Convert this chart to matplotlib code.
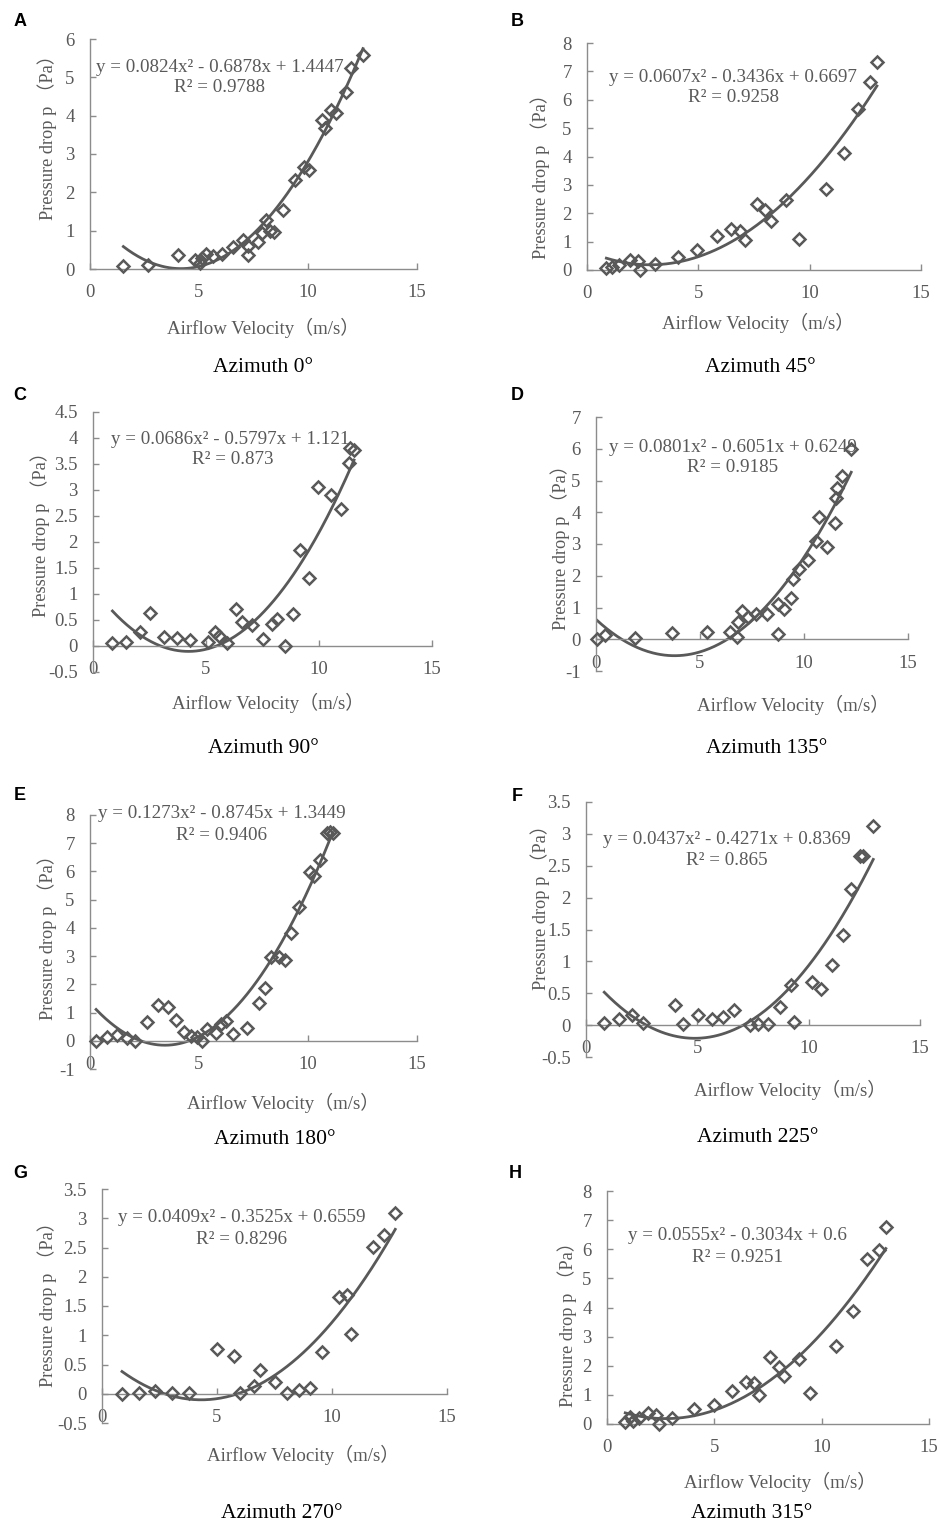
import numpy as np
import matplotlib
matplotlib.use("Agg")
import matplotlib.pyplot as plt
from matplotlib.ticker import FuncFormatter, MultipleLocator

plt.rcParams['font.family'] = ['Liberation Serif', 'Noto Sans CJK SC']

W, H = 940, 1526
GREY = '#595959'
AXIS = '#8c8c8c'

# ---------------- data ----------------
a_x = [1.53, 2.65, 4.03, 4.82, 5.05, 5.13, 5.31, 5.63, 6.05, 6.58, 7.04, 7.24, 7.27, 7.70, 7.88,
       8.07, 8.24, 8.46, 8.85, 9.41, 9.80, 10.03, 10.64, 10.79, 11.07, 11.28, 11.74, 11.97, 12.52]
a_y = [0.09, 0.11, 0.37, 0.24, 0.15, 0.29, 0.40, 0.33, 0.40, 0.57, 0.75, 0.61, 0.37, 0.70, 0.94,
       1.27, 0.98, 0.96, 1.53, 2.33, 2.65, 2.59, 3.90, 3.68, 4.16, 4.07, 4.63, 5.24, 5.57]

b_x = [0.87, 1.12, 1.45, 1.92, 2.29, 2.40, 3.07, 4.07, 4.94, 5.84, 6.48, 6.86, 7.08, 7.63, 8.01,
       8.28, 8.95, 9.51, 10.75, 11.53, 12.16, 12.72, 13.02]
b_y = [0.08, 0.12, 0.18, 0.35, 0.32, 0.0, 0.20, 0.47, 0.70, 1.21, 1.45, 1.37, 1.06, 2.32, 2.11,
       1.74, 2.46, 1.10, 2.87, 4.13, 5.67, 6.64, 7.33]

c_x = [0.86, 1.47, 2.06, 2.54, 3.13, 3.73, 4.31, 5.09, 5.38, 5.58, 5.94, 6.31, 6.61, 7.05, 7.52,
       7.92, 8.16, 8.51, 8.85, 9.14, 9.56, 9.96, 10.52, 10.99, 11.31, 11.36, 11.55]
c_y = [0.05, 0.08, 0.26, 0.64, 0.17, 0.16, 0.12, 0.08, 0.26, 0.19, 0.05, 0.72, 0.47, 0.40, 0.14,
       0.43, 0.51, 0.0, 0.61, 1.85, 1.31, 3.06, 2.91, 2.64, 3.51, 3.80, 3.76]

d_x = [0.03, 0.43, 1.88, 3.64, 5.33, 6.45, 6.77, 6.82, 7.04, 7.33, 7.68, 8.24, 8.73, 8.77, 9.02,
       9.39, 9.47, 9.77, 10.17, 10.57, 10.73, 11.10, 11.47, 11.53, 11.58, 11.82, 12.27]
d_y = [0.0, 0.14, 0.05, 0.21, 0.24, 0.24, 0.06, 0.53, 0.90, 0.69, 0.79, 0.79, 1.11, 0.17, 0.95,
       1.29, 1.89, 2.20, 2.51, 3.09, 3.86, 2.91, 3.65, 4.46, 4.75, 5.13, 5.98]

e_x = [0.28, 0.77, 1.26, 1.68, 2.07, 2.60, 3.11, 3.60, 3.93, 4.33, 4.62, 4.90, 5.13, 5.36, 5.77,
       6.02, 6.23, 6.55, 7.22, 7.73, 8.04, 8.30, 8.65, 8.95, 9.23, 9.61, 10.10, 10.26, 10.56,
       10.87, 11.02, 11.13]
e_y = [0.0, 0.12, 0.20, 0.11, 0.0, 0.67, 1.26, 1.21, 0.73, 0.32, 0.17, 0.14, 0.0, 0.40, 0.28,
       0.61, 0.71, 0.24, 0.44, 1.35, 1.86, 2.96, 2.98, 2.86, 3.81, 4.75, 5.99, 5.84, 6.41,
       7.35, 7.41, 7.35]

f_x = [0.82, 1.48, 2.08, 2.57, 4.00, 4.37, 5.04, 5.67, 6.17, 6.65, 7.37, 7.74, 8.19, 8.71, 9.21,
       9.36, 10.13, 10.55, 11.03, 11.53, 11.90, 12.31, 12.46, 12.90]
f_y = [0.03, 0.09, 0.16, 0.04, 0.31, 0.02, 0.16, 0.10, 0.12, 0.24, 0.0, 0.02, 0.02, 0.29, 0.63,
       0.05, 0.68, 0.56, 0.95, 1.42, 2.13, 2.65, 2.66, 3.12]

g_x = [0.87, 1.59, 2.32, 3.04, 3.80, 5.00, 5.72, 5.99, 6.62, 6.86, 7.54, 8.04, 8.55, 9.06, 9.57,
       10.29, 10.65, 10.83, 11.78, 12.25, 12.75]
g_y = [0.0, 0.01, 0.04, 0.02, 0.01, 0.77, 0.64, 0.01, 0.13, 0.41, 0.20, 0.02, 0.06, 0.09, 0.71,
       1.65, 1.68, 1.02, 2.51, 2.72, 3.09]

h_x = [0.85, 1.05, 1.19, 1.47, 1.91, 2.28, 2.40, 3.05, 4.06, 4.99, 5.84, 6.46, 6.85, 7.08, 7.59,
       8.01, 8.26, 8.96, 9.45, 10.69, 11.47, 12.12, 12.68, 12.99]
h_y = [0.08, 0.25, 0.11, 0.19, 0.37, 0.31, 0.0, 0.19, 0.51, 0.65, 1.14, 1.45, 1.40, 1.00, 2.31,
       1.97, 1.66, 2.23, 1.08, 2.69, 3.89, 5.66, 5.97, 6.75]

letters = ['A', 'B', 'C', 'D', 'E', 'F', 'G', 'H']
azimuths = [0, 45, 90, 135, 180, 225, 270, 315]
coefs = [(0.0824, -0.6878, 1.4447), (0.0607, -0.3436, 0.6697), (0.0686, -0.5797, 1.121),
         (0.0801, -0.6051, 0.6249), (0.1273, -0.8745, 1.3449), (0.0437, -0.4271, 0.8369),
         (0.0409, -0.3525, 0.6559), (0.0555, -0.3034, 0.6)]
eq_text = ['0.0824x² - 0.6878x + 1.4447', '0.0607x² - 0.3436x + 0.6697',
           '0.0686x² - 0.5797x + 1.121', '0.0801x² - 0.6051x + 0.6249',
           '0.1273x² - 0.8745x + 1.3449', '0.0437x² - 0.4271x + 0.8369',
           '0.0409x² - 0.3525x + 0.6559', '0.0555x² - 0.3034x + 0.6']
r2 = ['0.9788', '0.9258', '0.873', '0.9185', '0.9406', '0.865', '0.8296', '0.9251']
ylims = [(0, 6, 1), (0, 8, 1), (-0.5, 4.5, 0.5), (-1, 7, 1),
         (-1, 8, 1), (-0.5, 3.5, 0.5), (-0.5, 3.5, 0.5), (0, 8, 1)]
xs = [a_x, b_x, c_x, d_x, e_x, f_x, g_x, h_x]
ys = [a_y, b_y, c_y, d_y, e_y, f_y, g_y, h_y]

# ---------------- layout (pixel boxes in the 940x1526 image) ----------------
# axes box: left, right, top, bottom
boxes = [(90, 417, 39, 269), (587, 921, 43, 270), (93, 432, 412, 672), (596, 908, 417, 671),
         (90, 417, 815, 1069), (586, 920, 802, 1057), (102, 447, 1189, 1423), (607, 929, 1191, 1424)]
# equation centre, R2 centre, xlabel, ylabel, title, letter
eq_pos = [(220, 68), (733, 77), (230, 439), (733, 447), (222, 813), (727, 840), (242, 1218), (738, 1236)]
r2_pos = [(220, 88), (733, 98), (233, 460), (733, 467), (222, 835), (727, 861), (242, 1239), (738, 1257)]
xl_pos = [(263, 328), (758, 323), (268, 703), (793, 705), (283, 1103), (790, 1090), (303, 1455), (780, 1482)]
yl_pos = [(47, 133), (540, 172), (40, 530), (560, 543), (47, 933), (540, 903), (47, 1300), (567, 1320)]
ti_pos = [(263, 367), (760, 367), (263, 748), (767, 748), (275, 1140), (758, 1137), (282, 1513), (752, 1513)]
le_pos = [(20, 22), (517, 22), (20, 395), (517, 395), (20, 795), (517, 797), (20, 1173), (515, 1173)]


def fx(px):
    return px / W


def fy(py):
    return 1 - py / H


fig = plt.figure(figsize=(W / 100, H / 100), dpi=100)
fmt = FuncFormatter(lambda v, p: f'{v:g}')

for i in range(8):
    l, r, t, b = boxes[i]
    ax = fig.add_axes([fx(l), fy(b), fx(r) - fx(l), fy(t) - fy(b)])
    lo, hi, step = ylims[i]
    ax.set_xlim(0, 15)
    ax.set_ylim(lo, hi)
    ax.xaxis.set_major_locator(MultipleLocator(5))
    ax.yaxis.set_major_locator(MultipleLocator(step))
    ax.xaxis.set_major_formatter(fmt)
    ax.yaxis.set_major_formatter(fmt)
    ax.spines['top'].set_visible(False)
    ax.spines['right'].set_visible(False)
    ax.spines['bottom'].set_position(('data', 0))
    for s in ['left', 'bottom']:
        ax.spines[s].set_color(AXIS)
        ax.spines[s].set_linewidth(1.0)
    ax.tick_params(direction='in', length=4, width=1, color=AXIS,
                   labelcolor=GREY, labelsize=13.5, pad=11)
    ax.patch.set_alpha(0)

    x = np.array(xs[i])
    y = np.array(ys[i])
    a2, a1, a0 = coefs[i]
    xx = np.linspace(x.min(), x.max(), 200)
    ax.plot(xx, a2 * xx ** 2 + a1 * xx + a0, color=GREY, lw=2, zorder=2)
    ax.plot(x, y, 'D', ms=6.5, mfc='none', mec=GREY, mew=1.8, zorder=3, clip_on=False)

    fig.text(fx(eq_pos[i][0]), fy(eq_pos[i][1]), 'y = ' + eq_text[i], ha='center', va='center',
             fontsize=13.7, color=GREY)
    fig.text(fx(r2_pos[i][0]), fy(r2_pos[i][1]), 'R² = ' + r2[i], ha='center', va='center',
             fontsize=13.7, color=GREY)
    fig.text(fx(xl_pos[i][0]), fy(xl_pos[i][1]), 'Airflow Velocity（m/s）', ha='center', va='center',
             fontsize=13.6, color=GREY)
    fig.text(fx(yl_pos[i][0]), fy(yl_pos[i][1]), 'Pressure drop p （Pa）', ha='center', va='center',
             fontsize=13.2, color=GREY, rotation=90)
    fig.text(fx(ti_pos[i][0]), fy(ti_pos[i][1]), f'Azimuth {azimuths[i]}°', ha='center', va='center',
             fontsize=15.5, color='black')
    fig.text(fx(le_pos[i][0]), fy(le_pos[i][1]), letters[i], ha='center', va='center',
             fontsize=13, fontweight='bold', family='Liberation Sans', color='black')

fig.savefig('out.png', dpi=100)
